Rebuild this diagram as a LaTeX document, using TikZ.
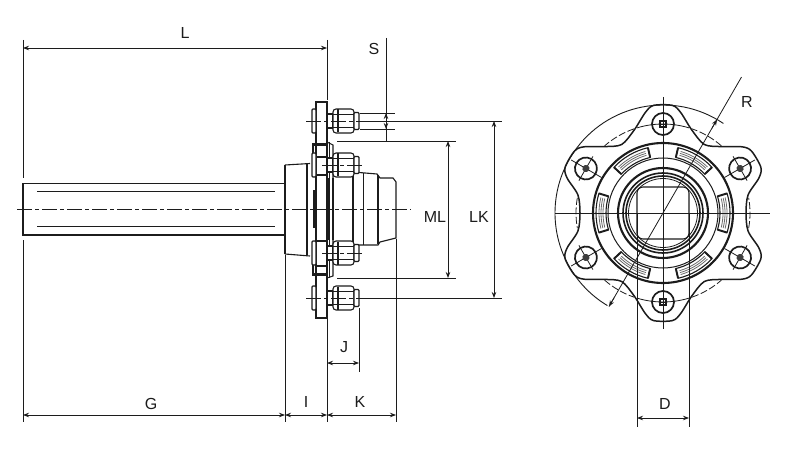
\documentclass[tikz,border=0pt]{standalone}
\usepackage{fontspec}
\setmainfont{Liberation Sans}
\usetikzlibrary{arrows.meta}
\definecolor{ink}{HTML}{1C1C1C}
\tikzset{
  thinl/.style={line width=.8pt,draw=ink},
  medl/.style={line width=1.1pt,draw=ink},
  thickl/.style={line width=1.9pt,draw=ink},
  axisl/.style={line width=.9pt,draw=ink,dash pattern=on 15pt off 3pt on 4pt off 3pt},
  dimarrow/.style={line width=.8pt,draw=ink,{Stealth[length=6pt,width=4.5pt]}-{Stealth[length=6pt,width=4.5pt]}},
  headarrow/.style={line width=.8pt,draw=ink,-{Stealth[length=6pt,width=4.5pt]}},
  dimlabel/.style={font=\fontsize{16}{18}\selectfont,text=ink,inner sep=0pt},
}
\newcommand{\sidebolt}[1]{%
  \begin{scope}[shift={(0,#1)}]
    \draw[medl,fill=white,rounded corners=1pt] (316,-12) rectangle (312,12);
    \draw[medl,fill=white] (327,-7) rectangle (333,7);
    \draw[medl,fill=white,rounded corners=3pt] (333,-12) rectangle (354,12);
    \draw[medl,fill=white,rounded corners=1pt] (354,-8.5) rectangle (359,8.5);
    \draw[thickl] (338,-11.5) -- (338,11.5);
    \draw[thinl] (333,-6.5) -- (354,-6.5) (333,6.5) -- (354,6.5);
  \end{scope}}
\newcommand{\slotblock}[1]{%
  \begin{scope}[rotate=#1]
    \draw[medl,fill=white] (-17:57pt) -- (-17:67pt) arc[start angle=-17,end angle=17,radius=67pt] -- (17:57pt) arc[start angle=17,end angle=-17,radius=57pt] -- cycle;
    \foreach \rr in {60,62,64}{\draw[line width=.8pt,draw=ink!65] (-14:\rr pt) arc[start angle=-14,end angle=14,radius=\rr pt];}
    \draw[thickl] (-17:57pt) -- (-17:67pt);
    \draw[thickl] (17:57pt) -- (17:67pt);
  \end{scope}}
\newcommand{\holecross}[1]{%
  \begin{scope}[rotate=#1]
    \draw[thinl] (71pt,0pt) -- (106pt,0pt);
    \draw[thinl] (89pt,-14pt) -- (89pt,14pt);
    \draw[line width=1.7pt,draw=ink] (89pt,0pt) circle[radius=11pt];
    \fill[ink!85] (89pt,0pt) circle[radius=3.6pt];
  \end{scope}}
\begin{document}
\begin{tikzpicture}[x=1pt,y=-1pt]
\useasboundingbox (0,0) rectangle (800,473);
\fill[white] (0,0) rectangle (800,473);

% ---------- side view: shaft ----------
\draw[line width=1.3pt,draw=ink] (285,183.5) -- (23,183.5) -- (23,235) -- (285,235);
\draw[thinl,line width=1pt] (37,192) -- (275,192) (37,226.5) -- (275,226.5);

% hub body
\draw[medl] (285,165) -- (310,163.5);
\draw[medl] (285,254) -- (310,256);
\draw[medl] (285,165) -- (285,254);
\draw[medl] (307,164) -- (307,255);
% front hub
\draw[medl] (353,172) -- (377,174) -- (380,178) -- (393,178) -- (396,182) -- (396,238) -- (380,242) -- (378,245) -- (353,245);
\draw[medl] (353,172) -- (353,245);
\draw[thinl] (363,173) -- (363,245);
\draw[line width=1.5pt,draw=ink] (378,175) -- (378,244);
% inner disc
\draw[medl] (327,142) -- (333,145) -- (333,276) -- (327,278);
\draw[thinl] (329,142) -- (329,278);
% flange
\draw[medl,fill=white] (316,102) rectangle (327,318);
\draw[line width=3pt,draw=ink] (313,145) -- (327,145);
\draw[line width=3pt,draw=ink] (313,274) -- (327,274);
\draw[medl] (313,143) -- (313,155);
\draw[medl] (313,265) -- (313,276);
\draw[medl] (316,175) -- (327,175) (316,157) -- (327,157);
\draw[medl] (316,241) -- (327,241) (316,266) -- (327,266);
\draw[line width=4pt,draw=ink] (315,190) -- (315,228);
\draw[medl] (329,178) -- (329,240);
\draw[medl] (333,178) -- (333,240);

% bolts
\sidebolt{121}
\sidebolt{165}
\sidebolt{253}
\sidebolt{298}
\draw[axisl] (306,121) -- (366,121);
\draw[axisl] (322,165) -- (364,165);
\draw[axisl] (322,253) -- (364,253);
\draw[axisl] (306,298) -- (366,298);

% axis
\draw[axisl] (17,209) -- (411,209);

% ---------- side view: dimensions ----------
\draw[thinl] (23,40) -- (23,178) (23,240) -- (23,422);
\draw[thinl] (327,40) -- (327,100);
\draw[thinl] (285,255) -- (285,422);
\draw[thinl] (327,319) -- (327,422);
\draw[thinl] (396,239) -- (396,422);
\draw[dimarrow] (23,48) -- (327,48);
\draw[dimarrow] (23,415) -- (285,415);
\draw[dimarrow] (285,415) -- (327,415);
\draw[dimarrow] (327,415) -- (396,415);
\draw[dimarrow] (327,363) -- (359,363);
\draw[thinl] (359,308) -- (359,372);
\draw[thinl] (360,113) -- (395,113) (360,129) -- (395,129);
\draw[thinl] (386,38) -- (386,141);
\draw[headarrow] (386,121) -- (386,113);
\draw[headarrow] (386,121) -- (386,129);
\draw[thinl] (366,121) -- (502,121);
\draw[thinl] (366,298) -- (502,298);
\draw[thinl] (337,141) -- (456,141);
\draw[thinl] (337,278) -- (456,278);
\draw[dimarrow] (448,141) -- (448,278);
\draw[dimarrow] (494,121) -- (494,298);

\node[dimlabel] (lL) at (185,33) {L};
\node[dimlabel] (lS) at (374,49) {S};
\node[dimlabel] (lML) at (435,217) {ML};
\node[dimlabel] (lLK) at (479,217) {LK};
\node[dimlabel] (lJ) at (344,347) {J};
\node[dimlabel] (lI) at (306,402) {I};
\node[dimlabel] (lK) at (360,402) {K};
\node[dimlabel] (lG) at (151,404) {G};

% ---------- front view ----------
\begin{scope}[shift={(663,213)}]
  % outer R arc
  \draw[thinl,line width=.9pt] (56:108pt) arc[start angle=56,end angle=239,radius=108pt];
  % bolt circle
  \foreach \m in {60,120,240,300}{
    \draw[thinl,dash pattern=on 7pt off 2.5pt] (\m-11:89pt) arc[start angle=\m-11,end angle=\m+11,radius=89pt];
  }
  \foreach \m in {0,180}{
    \draw[thinl,dash pattern=on 7pt off 2.5pt] (\m-10:87pt) arc[start angle=\m-10,end angle=\m+10,radius=87pt];
  }
  \draw[thinl] (73:89pt) arc[start angle=73,end angle=107,radius=89pt];
  \draw[thinl] (253:89pt) arc[start angle=253,end angle=287,radius=89pt];
  % flange outline
  \draw[line width=1.5pt,draw=ink] plot[smooth cycle,tension=.5] coordinates {
    (0:83pt)(12:87pt)(20:102pt)(25:108pt)(35:108pt)(40:103pt)(49:88pt)
    (59:80pt)(71:88pt)(80:102pt)(85:108pt)(95:108pt)(100:102pt)(109:88pt)
    (121:80pt)(131:88pt)(140:103pt)(145:108pt)(155:108pt)(160:102pt)(168:87pt)
    (180:83pt)(192:87pt)(200:102pt)(205:108pt)(215:108pt)(220:103pt)(229:88pt)
    (239:80pt)(251:88pt)(260:102pt)(265:108pt)(275:108pt)(280:102pt)(289:88pt)
    (301:80pt)(311:88pt)(320:103pt)(325:108pt)(335:108pt)(340:102pt)(348:87pt)};
  % rings
  \draw[line width=2.1pt,draw=ink] (0,0) circle[radius=70pt];
  \draw[thinl,line width=1pt] (0,0) circle[radius=55pt];
  \foreach \s in {0,60,120,180,240,300}{\slotblock{\s}}
  \draw[line width=2.1pt,draw=ink] (0,0) circle[radius=45pt];
  \draw[line width=1.6pt,draw=ink] (0,0) circle[radius=40pt];
  \draw[line width=1.6pt,draw=ink] (0,0) circle[radius=37pt];
  \draw[thinl] (0,0) circle[radius=34.5pt];
  % square bore
  \draw[medl,rounded corners=6pt] (-26,-26) rectangle (26,26);
  % bolts
  \foreach \b in {30,150,210,330}{\holecross{\b}}
  \foreach \b in {90,270}{
    \begin{scope}[rotate=\b]
      \draw[line width=1.7pt,draw=ink] (89pt,0pt) circle[radius=11pt];
      \draw[medl] (86pt,-3pt) rectangle (92pt,3pt);
      \draw[thinl] (89pt,-4pt) -- (89pt,4pt);
    \end{scope}}
  % axes
  \draw[thinl,line width=1pt] (-108,0) -- (107,0);
  \draw[thinl,line width=1pt] (0,-116) -- (0,116);
  % D extension lines
  \draw[thinl] (-26,0) -- (-26,214);
  \draw[thinl] (26,0) -- (26,214);
  \draw[dimarrow] (-26,205) -- (26,205);
  % R leader
  \coordinate (rTop) at (60:157pt);
  \coordinate (rEnd) at (240:108pt);
  \draw[thinl] (rTop) -- (rEnd);
  \draw[headarrow] (60:98pt) -- (60:108pt);
  \draw[headarrow] (240:98pt) -- (rEnd);
\end{scope}
\node[dimlabel] (lR) at (747,102) {R};
\node[dimlabel] (lD) at (665,404) {D};
\end{tikzpicture}
\end{document}
